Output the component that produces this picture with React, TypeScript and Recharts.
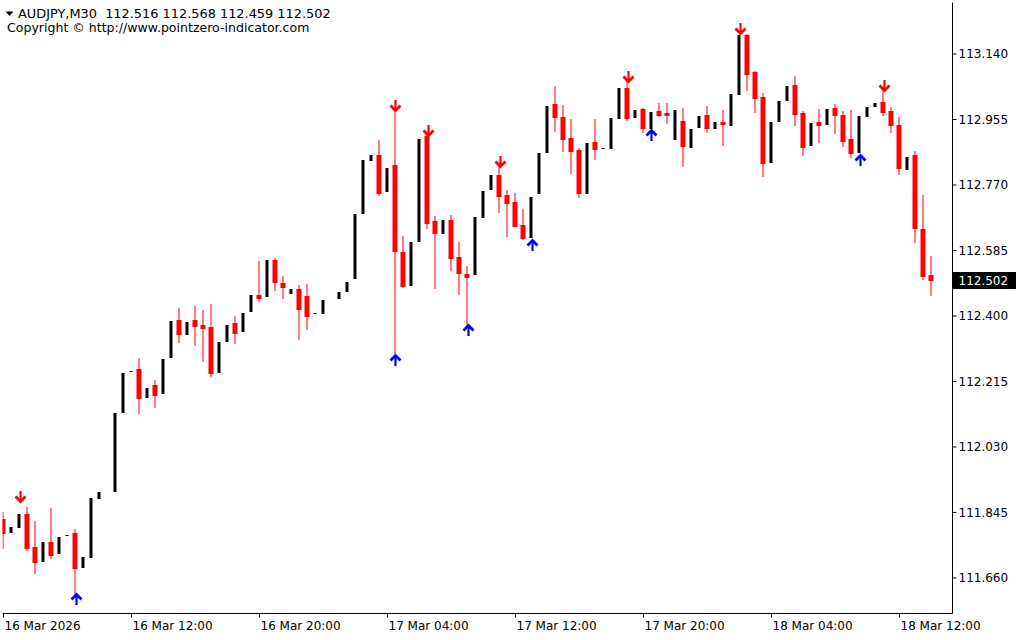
import React from 'react';
import { ComposedChart, Bar, Scatter, XAxis, YAxis, ReferenceLine } from 'recharts';

const FONT = '"DejaVu Sans", Verdana, sans-serif';

const openP = [
  111.826, 111.787, 111.801, 111.841, 111.747, 111.705, 111.761, 111.728, 111.778, 111.787,
  111.688, 111.716, 111.883, 111.902, 111.903, 112.126, 112.242, 112.250, 112.168, 112.205,
  112.180, 112.281, 112.389, 112.346, 112.389, 112.374, 112.369, 112.239, 112.326, 112.380,
  112.355, 112.411, 112.459, 112.454, 112.558, 112.493, 112.462, 112.476, 112.456, 112.406,
  112.406, 112.448, 112.448, 112.468, 112.504, 112.688, 112.838, 112.855, 112.750, 112.826,
  112.581, 112.485, 112.609, 112.908, 112.668, 112.632, 112.671, 112.567, 112.519, 112.516,
  112.677, 112.756, 112.798, 112.742, 112.722, 112.657, 112.620, 112.745, 112.860, 112.999,
  112.962, 112.903, 112.869, 112.745, 112.891, 112.873, 112.872, 112.956, 113.044, 112.959,
  112.985, 112.928, 112.979, 112.973, 112.897, 112.951, 112.874, 112.931, 112.968, 112.928,
  112.948, 112.937, 113.024, 113.194, 113.089, 113.019, 112.832, 112.948, 113.007, 113.052,
  112.973, 112.880, 112.948, 112.939, 112.987, 112.968, 112.900, 112.860, 112.962, 112.990,
  113.004, 112.979, 112.939, 112.812, 112.855, 112.646, 112.516,
];
const highP = [
  111.846, 111.812, 111.877, 111.860, 111.821, 111.770, 111.858, 111.785, 111.790, 111.798,
  111.730, 111.895, 111.910, 111.915, 112.135, 112.250, 112.252, 112.281, 112.205, 112.219,
  112.287, 112.395, 112.422, 112.392, 112.428, 112.417, 112.434, 112.335, 112.383, 112.400,
  112.417, 112.468, 112.555, 112.567, 112.564, 112.513, 112.485, 112.487, 112.490, 112.415,
  112.454, 112.456, 112.477, 112.505, 112.697, 112.849, 112.864, 112.897, 112.827, 112.982,
  112.626, 112.618, 112.909, 112.910, 112.682, 112.680, 112.685, 112.609, 112.541, 112.688,
  112.762, 112.807, 112.824, 112.756, 112.747, 112.702, 112.745, 112.869, 113.002, 113.050,
  112.996, 112.956, 112.874, 112.897, 112.956, 112.880, 112.968, 113.053, 113.064, 112.991,
  112.987, 112.985, 113.002, 113.002, 112.991, 112.987, 112.937, 112.974, 112.993, 112.957,
  112.982, 113.036, 113.199, 113.197, 113.092, 113.030, 112.957, 113.016, 113.058, 113.078,
  112.979, 112.954, 112.985, 112.993, 112.999, 112.979, 112.982, 112.974, 112.999, 113.010,
  113.038, 112.990, 112.962, 112.858, 112.866, 112.742, 112.568,
];
const lowP = [
  111.745, 111.782, 111.795, 111.739, 111.674, 111.700, 111.716, 111.720, 111.775, 111.615,
  111.683, 111.710, 111.878, 111.895, 111.898, 112.120, 112.238, 112.126, 112.163, 112.143,
  112.175, 112.276, 112.326, 112.340, 112.318, 112.273, 112.230, 112.233, 112.320, 112.324,
  112.350, 112.405, 112.442, 112.449, 112.473, 112.451, 112.457, 112.335, 112.363, 112.400,
  112.400, 112.443, 112.443, 112.463, 112.500, 112.683, 112.833, 112.742, 112.745, 112.290,
  112.482, 112.480, 112.604, 112.648, 112.479, 112.627, 112.530, 112.462, 112.374, 112.510,
  112.672, 112.750, 112.694, 112.626, 112.653, 112.617, 112.615, 112.740, 112.855, 112.922,
  112.866, 112.804, 112.736, 112.740, 112.843, 112.868, 112.867, 112.951, 112.954, 112.954,
  112.920, 112.925, 112.965, 112.945, 112.892, 112.824, 112.869, 112.926, 112.920, 112.923,
  112.883, 112.932, 113.019, 113.038, 112.976, 112.795, 112.827, 112.943, 113.002, 112.939,
  112.855, 112.875, 112.891, 112.934, 112.917, 112.880, 112.849, 112.855, 112.957, 112.985,
  112.968, 112.920, 112.801, 112.807, 112.609, 112.504, 112.459,
];
const closeP = [
  111.787, 111.807, 111.843, 111.745, 111.705, 111.764, 111.725, 111.778, 111.784, 111.688,
  111.722, 111.889, 111.906, 111.905, 112.129, 112.242, 112.247, 112.168, 112.199, 112.177,
  112.281, 112.389, 112.349, 112.386, 112.372, 112.366, 112.239, 112.329, 112.377, 112.352,
  112.411, 112.462, 112.451, 112.561, 112.496, 112.482, 112.479, 112.420, 112.400, 112.411,
  112.448, 112.451, 112.471, 112.499, 112.691, 112.843, 112.858, 112.747, 112.821, 112.584,
  112.485, 112.612, 112.903, 112.663, 112.634, 112.674, 112.564, 112.521, 112.510, 112.682,
  112.756, 112.801, 112.739, 112.719, 112.654, 112.620, 112.739, 112.863, 112.996, 112.962,
  112.900, 112.866, 112.747, 112.891, 112.872, 112.876, 112.962, 113.047, 112.959, 112.985,
  112.931, 112.979, 112.968, 112.968, 112.985, 112.880, 112.931, 112.968, 112.931, 112.951,
  112.942, 113.030, 113.197, 113.083, 113.016, 112.832, 112.951, 113.010, 113.052, 112.970,
  112.877, 112.948, 112.939, 112.987, 112.968, 112.894, 112.860, 112.968, 112.993, 113.004,
  112.976, 112.939, 112.818, 112.852, 112.648, 112.513, 112.502,
];

const sellIdx = [2, 49, 53, 62, 78, 92, 110];
const buyIdx = [9, 49, 58, 66, 81, 107];

const timeTickIdx = [0, 16, 32, 48, 64, 80, 96, 112];
const timeTickLabels = [
  '16 Mar 2026', '16 Mar 12:00', '16 Mar 20:00', '17 Mar 04:00',
  '17 Mar 12:00', '17 Mar 20:00', '18 Mar 04:00', '18 Mar 12:00',
];
const priceTicks = [111.66, 111.845, 112.03, 112.215, 112.4, 112.585, 112.77, 112.955, 113.14];

const symbolName = 'AUDJPY,M30';
const copyrightText = 'Copyright © http://www.pointzero-indicator.com';

const Y_DOMAIN: [number, number] = [111.5595, 113.2855];
const X_DOMAIN: [number, number] = [-0.125, 118.625];

const data = openP.map((o, i) => ({
  i,
  open: o,
  high: highP[i],
  low: lowP[i],
  close: closeP[i],
  dn: sellIdx.includes(i) ? highP[i] : null,
  up: buyIdx.includes(i) ? lowP[i] : null,
}));

const last = data.length - 1;

const Candle = (props: any) => {
  const { x, y, width, height, payload } = props;
  if (!payload || x == null || y == null) return <g />;
  const { open, high, low, close } = payload;
  const top = Math.min(y, y + height);
  const bot = Math.max(y, y + height);
  const k = high === low ? 0 : (bot - top) / (high - low);
  const yOf = (p: number) => Math.round(top + (high - p) * k);
  const cx = x + width / 2;
  if (close >= open) {
    const yc = yOf(close);
    const yo = yOf(open);
    const h = yo - yc - 1;
    if (h < 1) return <g />;
    return <rect x={cx - 1.5} y={yc + 1} width={3} height={h} fill="#000000" />;
  }
  const yo = yOf(open);
  const yc = yOf(close);
  const yh = yOf(high);
  const yl = yOf(low);
  return (
    <g>
      <rect x={cx - 0.5} y={yh} width={1} height={yl - yh + 1} fill="#ff0000" />
      <rect x={cx - 2.5} y={yo} width={5} height={Math.max(1, yc - yo + 1)} fill="#ff0000" />
    </g>
  );
};

const DownArrow = (props: any) => {
  const { cx, cy, payload } = props;
  if (!payload || payload.dn == null || !Number.isFinite(cy)) return <g />;
  const x = Math.round(cx) + 0.5;
  const t = Math.round(cy) + 2;
  return (
    <g fill="none" stroke="#ff0000" strokeLinecap="butt" strokeLinejoin="miter">
      <line x1={x} y1={t - 12} x2={x} y2={t - 2} strokeWidth={2.2} />
      <polyline points={`${x - 5},${t - 6.5} ${x},${t - 1.5} ${x + 5},${t - 6.5}`} strokeWidth={2.8} />
    </g>
  );
};

const UpArrow = (props: any) => {
  const { cx, cy, payload } = props;
  if (!payload || payload.up == null || !Number.isFinite(cy)) return <g />;
  const x = Math.round(cx) + 0.5;
  const t = Math.round(cy) - 1;
  return (
    <g fill="none" stroke="#0000ff" strokeLinecap="butt" strokeLinejoin="miter">
      <line x1={x} y1={t + 12} x2={x} y2={t + 2} strokeWidth={2.2} />
      <polyline points={`${x - 5},${t + 6.5} ${x},${t + 1.5} ${x + 5},${t + 6.5}`} strokeWidth={2.8} />
    </g>
  );
};

const TimeTick = (props: any) => {
  const { x, y, payload } = props;
  const k = timeTickIdx.indexOf(payload.value);
  if (k < 0) return <g />;
  return (
    <text x={x + 1} y={y + 10.5} textAnchor="start" fontFamily={FONT} fontSize={12} fill="#000000">
      {timeTickLabels[k]}
    </text>
  );
};

const PriceTag = (props: any) => {
  const vb = props.viewBox || {};
  const rx = (vb.x || 0) + (vb.width || 0);
  const ry = Math.round(vb.y || 0);
  return (
    <g>
      <rect x={rx + 0.5} y={ry - 8} width={63} height={17} fill="#000000" />
      <text x={rx + 6} y={ry + 4.5} fontFamily={FONT} fontSize={12} fill="#ffffff">
        {closeP[last].toFixed(3)}
      </text>
    </g>
  );
};

export default function App() {
  const header = `${symbolName}  ${openP[last].toFixed(3)} ${highP[last].toFixed(3)} ${lowP[last].toFixed(3)} ${closeP[last].toFixed(3)}`;
  return (
    <div style={{ position: 'absolute', left: 0, top: 0, width: 1024, height: 640, background: '#ffffff' }}>
      <ComposedChart
        width={1024}
        height={640}
        data={data}
        margin={{ top: 2.5, right: 0, bottom: 0, left: 2.5 }}
      >
        <XAxis
          dataKey="i"
          type="number"
          domain={X_DOMAIN}
          allowDataOverflow
          ticks={timeTickIdx}
          interval={0}
          height={26.5}
          tickSize={4}
          tickMargin={2}
          tickLine={{ stroke: '#000000' }}
          axisLine={{ stroke: '#000000' }}
          tick={<TimeTick />}
        />
        <XAxis
          xAxisId="frameTop"
          dataKey="i"
          type="number"
          orientation="top"
          domain={X_DOMAIN}
          allowDataOverflow
          height={0}
          tick={false}
          tickLine={false}
          axisLine={{ stroke: '#000000' }}
        />
        <YAxis
          orientation="right"
          type="number"
          domain={Y_DOMAIN}
          allowDataOverflow
          ticks={priceTicks}
          interval={0}
          width={71.5}
          tickSize={4}
          tickMargin={2}
          tickLine={{ stroke: '#000000' }}
          axisLine={{ stroke: '#000000' }}
          tickFormatter={(v: number) => v.toFixed(3)}
          tick={{ fill: '#000000', fontSize: 12, fontFamily: FONT }}
        />
        <YAxis
          yAxisId="frameLeft"
          orientation="left"
          type="number"
          domain={Y_DOMAIN}
          allowDataOverflow
          width={0}
          tick={false}
          tickLine={false}
          axisLine={{ stroke: '#000000' }}
        />
        <Bar
          dataKey={(d: any) => [d.low, d.high]}
          barSize={5}
          shape={<Candle />}
          isAnimationActive={false}
        />
        <Scatter dataKey="dn" shape={<DownArrow />} isAnimationActive={false} />
        <Scatter dataKey="up" shape={<UpArrow />} isAnimationActive={false} />
        <ReferenceLine y={closeP[last]} stroke="none" ifOverflow="visible" label={(p: any) => <PriceTag {...p} />} />
      </ComposedChart>
      <svg
        width={1024}
        height={40}
        style={{ position: 'absolute', left: 0, top: 0, pointerEvents: 'none' }}
      >
        <polygon points="5.5,11.5 13.5,11.5 9.5,16" fill="#000000" />
        <text x={18} y={18} fontFamily={FONT} fontSize={12.9} fill="#000000" style={{ whiteSpace: 'pre' }}>
          {header}
        </text>
        <text x={7} y={31.5} fontFamily={FONT} fontSize={12.55} fill="#000000">
          {copyrightText}
        </text>
      </svg>
    </div>
  );
}
